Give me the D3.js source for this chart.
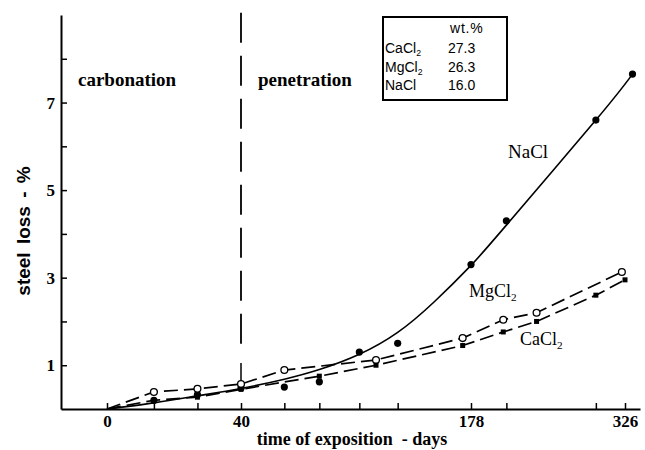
<!DOCTYPE html>
<html>
<head>
<meta charset="utf-8">
<script src="https://cdn.jsdelivr.net/npm/d3@7"></script>
<style>
  body { margin: 0; background: #fff; }
  svg { display: block; }
</style>
</head>
<body>
<div id="chart"></div>
<script>
// exposure days on the x axis, steel loss in % on the y axis
var tickDays = [0, 14, 27, 40, 66, 87, 111, 134, 178, 212, 298, 326];
var labelDays = [0, 40, 178, 326];
var lossTicks = [1, 2, 3, 4, 5, 6, 7, 8];
var lossLabels = [1, 3, 5, 7];

// NaCl: fitted solid curve and measured points
var naclFitDays = [0, 14, 27, 40, 66, 87, 111, 134, 156, 178, 212, 298, 333];
var naclFit = [0, 0.14, 0.3, 0.47, 0.68, 0.9, 1.25, 1.75, 2.45, 3.28, 4.2, 6.6, 7.65];
var naclDays = [14, 27, 40, 66, 87, 111, 134, 178, 212, 298, 333];
var naclLoss = [0.2, 0.33, 0.48, 0.5, 0.62, 1.3, 1.5, 3.3, 4.3, 6.6, 7.65];

// MgCl2: open circles, upper dashed line
var mgDays = [0, 14, 27, 40, 66, 121, 173, 209, 241, 323];
var mgLoss = [0, 0.39, 0.46, 0.57, 0.89, 1.12, 1.62, 2.04, 2.2, 3.13];

// CaCl2: filled squares, lower dashed line
var caDays = [0, 14, 27, 40, 87, 121, 173, 209, 241, 298, 326];
var caLoss = [0, 0.2, 0.27, 0.45, 0.75, 1.0, 1.45, 1.76, 2.0, 2.6, 2.95];

// composition table
var saltNames = ["CaCl", "MgCl", "NaCl"];
var saltSub = ["2", "2", ""];
var saltWt = ["27.3", "26.3", "16.0"];

var width = 645, height = 450;
var serif = "'Liberation Serif', 'Times New Roman', serif";
var sans = "'Liberation Sans', Arial, sans-serif";

var svg = d3.select("#chart").append("svg")
    .attr("width", width)
    .attr("height", height);

// time axis is not linear in the original figure
var x = d3.scaleLinear()
    .domain([-14, 0, 40, 178, 326, 340])
    .range([61, 107, 241, 471, 625, 640]);
var y = d3.scaleLinear()
    .domain([0, 9])
    .range([409, 15]);

// x axis
var xAxis = svg.append("g")
    .attr("transform", "translate(0," + y(0) + ")")
    .call(d3.axisBottom(x)
        .tickValues(tickDays)
        .tickSize(-6)
        .tickSizeOuter(0)
        .tickPadding(6)
        .tickFormat(function(d) { return labelDays.indexOf(d) >= 0 ? d : ""; }));
xAxis.select(".domain").attr("stroke-width", 2);
xAxis.selectAll(".tick line").attr("stroke-width", 1.5);
xAxis.selectAll("text")
    .attr("font-family", serif)
    .attr("font-weight", "bold")
    .attr("font-size", 17);

// y axis
var yAxis = svg.append("g")
    .attr("transform", "translate(" + x(-14) + ",0)")
    .call(d3.axisLeft(y)
        .tickValues(lossTicks)
        .tickSize(-6)
        .tickSizeOuter(0)
        .tickPadding(6)
        .tickFormat(function(d) { return lossLabels.indexOf(d) >= 0 ? d : ""; }));
yAxis.select(".domain").attr("stroke-width", 2);
yAxis.selectAll(".tick line").attr("stroke-width", 1.5);
yAxis.selectAll("text")
    .attr("font-family", serif)
    .attr("font-weight", "bold")
    .attr("font-size", 17);

// axis titles
svg.append("text")
    .attr("transform", "translate(30,231) rotate(-90)")
    .attr("text-anchor", "middle")
    .attr("font-family", sans)
    .attr("font-weight", "bold")
    .attr("font-size", 19)
    .attr("word-spacing", 3)
    .text("steel loss - %");

svg.append("text")
    .attr("x", 352)
    .attr("y", 445)
    .attr("text-anchor", "middle")
    .attr("font-family", serif)
    .attr("font-weight", "bold")
    .attr("font-size", 18)
    .attr("xml:space", "preserve")
    .text("time of exposition  - days");

// carbonation / penetration boundary at 40 days
svg.append("line")
    .attr("x1", x(40)).attr("x2", x(40))
    .attr("y1", y(9.05)).attr("y2", y(1.2))
    .attr("stroke", "#000")
    .attr("stroke-width", 1.8)
    .attr("stroke-dasharray", "30,13");
svg.append("line")
    .attr("x1", x(40)).attr("x2", x(40))
    .attr("y1", y(1.05)).attr("y2", y(0.5))
    .attr("stroke", "#000")
    .attr("stroke-width", 1.5);
svg.append("path")
    .attr("d", "M" + (x(40) - 3.5) + "," + (y(0.55)) + "L" + (x(40) + 3.5) + "," + (y(0.55)) + "L" + x(40) + "," + (y(0.4)) + "Z")
    .attr("fill", "#000");

svg.append("text")
    .attr("x", 78).attr("y", 86)
    .attr("font-family", serif)
    .attr("font-weight", "bold")
    .attr("font-size", 19)
    .text("carbonation");
svg.append("text")
    .attr("x", 258).attr("y", 86)
    .attr("font-family", serif)
    .attr("font-weight", "bold")
    .attr("font-size", 19)
    .text("penetration");

// lines
var toPts = function(days, vals) { return days.map(function(d, i) { return [d, vals[i]]; }); };

var smooth = d3.line()
    .x(function(d) { return x(d[0]); })
    .y(function(d) { return y(d[1]); })
    .curve(d3.curveNatural);
var straight = d3.line()
    .x(function(d) { return x(d[0]); })
    .y(function(d) { return y(d[1]); });

svg.append("path")
    .datum(toPts(naclFitDays, naclFit))
    .attr("d", smooth)
    .attr("fill", "none")
    .attr("stroke", "#000")
    .attr("stroke-width", 1.6);

svg.append("path")
    .datum(toPts(mgDays, mgLoss))
    .attr("d", straight)
    .attr("fill", "none")
    .attr("stroke", "#000")
    .attr("stroke-width", 1.7)
    .attr("stroke-dasharray", "14,6");

svg.append("path")
    .datum(toPts(caDays, caLoss))
    .attr("d", straight)
    .attr("fill", "none")
    .attr("stroke", "#000")
    .attr("stroke-width", 1.7)
    .attr("stroke-dasharray", "14,6");

// markers
svg.selectAll(".nacl")
    .data(toPts(naclDays, naclLoss))
    .enter().append("circle")
    .attr("class", "nacl")
    .attr("cx", function(d) { return x(d[0]); })
    .attr("cy", function(d) { return y(d[1]); })
    .attr("r", 3.6)
    .attr("fill", "#000");

svg.selectAll(".mg")
    .data(toPts(mgDays, mgLoss).slice(1))
    .enter().append("circle")
    .attr("class", "mg")
    .attr("cx", function(d) { return x(d[0]); })
    .attr("cy", function(d) { return y(d[1]); })
    .attr("r", 3.4)
    .attr("fill", "#fff")
    .attr("stroke", "#000")
    .attr("stroke-width", 1.3);

svg.selectAll(".ca")
    .data(toPts(caDays, caLoss).slice(1))
    .enter().append("rect")
    .attr("class", "ca")
    .attr("x", function(d) { return x(d[0]) - 2.5; })
    .attr("y", function(d) { return y(d[1]) - 2.5; })
    .attr("width", 5)
    .attr("height", 5)
    .attr("fill", "#000");

// curve labels
function chem(g, name, sub, px, py, size, family) {
    var t = g.append("text")
        .attr("x", px).attr("y", py)
        .attr("font-family", family)
        .attr("font-size", size);
    t.append("tspan").text(name);
    if (sub) {
        t.append("tspan")
            .attr("font-size", size * 0.62)
            .attr("dy", size * 0.22)
            .text(sub);
    }
    return t;
}
chem(svg, "NaCl", "", 508, 158, 19, serif);
chem(svg, "MgCl", "2", 469, 297, 18, serif);
chem(svg, "CaCl", "2", 520, 345, 18, serif);

// composition box
svg.append("rect")
    .attr("x", 383).attr("y", 17)
    .attr("width", 124).attr("height", 83)
    .attr("fill", "#fff")
    .attr("stroke", "#000")
    .attr("stroke-width", 2);
svg.append("text")
    .attr("x", 450).attr("y", 33)
    .attr("font-family", sans)
    .attr("font-size", 14)
    .attr("letter-spacing", 0.8)
    .text("wt.%");
saltNames.forEach(function(n, i) {
    var py = 53 + i * 18.5;
    chem(svg, n, saltSub[i], 385, py, 14, sans);
    svg.append("text")
        .attr("x", 448).attr("y", py)
        .attr("font-family", sans)
        .attr("font-size", 14)
        .text(saltWt[i]);
});
</script>
</body>
</html>
